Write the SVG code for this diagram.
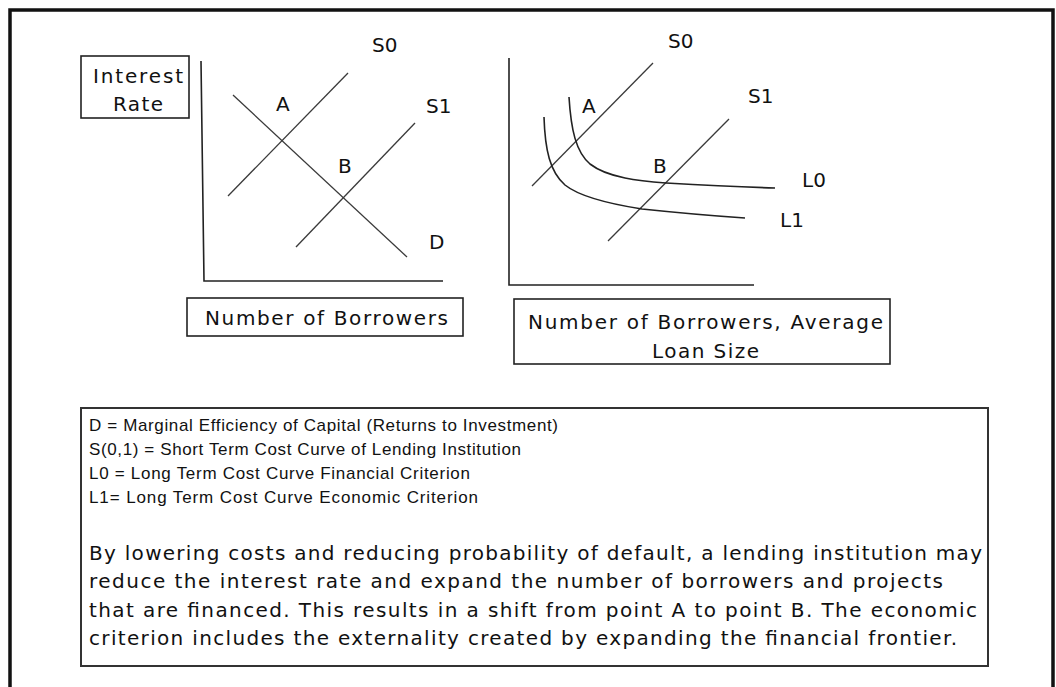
<svg xmlns="http://www.w3.org/2000/svg" width="1056" height="687" viewBox="0 0 1056 687">
<style>
.bg{fill:#fff}
.frame{fill:none;stroke:#111;stroke-width:3.5}
.box{fill:#fff;stroke:#222;stroke-width:1.6}
.lbox{fill:#fff;stroke:#333;stroke-width:2}
.axis{fill:none;stroke:#222;stroke-width:1.6}
.ln{fill:none;stroke:#3a3a3a;stroke-width:1.3}
.cv{fill:none;stroke:#222;stroke-width:1.6}
.t{font-family:"DejaVu Sans",Verdana,sans-serif;font-size:20px;fill:#111}
.s{font-family:"Liberation Sans",Arial,sans-serif;font-size:17px;fill:#111}
</style>
<rect class="bg" x="0" y="0" width="1056" height="687"/>
<path class="frame" d="M10,700 V10 H1053 V700"/>

<g id="y-label">
  <rect class="box" x="81" y="56" width="108" height="62"/>
  <text class="t" x="93" y="83" textLength="90">Interest</text>
  <text class="t" x="113" y="111" textLength="50">Rate</text>
</g>

<g id="left-graph">
  <path class="axis" d="M201,61 L204,281 L443,281"/>
  <g id="left-lines">
    <line class="ln" x1="228" y1="196" x2="348" y2="73"/>
    <line class="ln" x1="233" y1="95" x2="407" y2="257"/>
    <line class="ln" x1="296" y1="247" x2="415" y2="123"/>
  </g>
  <text class="t" x="372" y="52">S0</text>
  <text class="t" x="426" y="113">S1</text>
  <text class="t" x="276" y="111">A</text>
  <text class="t" x="338" y="173">B</text>
  <text class="t" x="429" y="249">D</text>
</g>

<g id="left-x-label">
  <rect class="box" x="187" y="298" width="276" height="38"/>
  <text class="t" x="205" y="325" textLength="243">Number of Borrowers</text>
</g>

<g id="right-graph">
  <path class="axis" d="M509,58 L509,285 L754,285"/>
  <g id="right-lines">
    <line class="ln" x1="532" y1="186" x2="653" y2="63"/>
    <line class="ln" x1="608" y1="241" x2="729" y2="119"/>
    <path class="cv" d="M569,97 C571,130 576,152 590,164 C608,178 640,181 666,183 C700,185 740,187 775,188"/>
    <path class="cv" d="M544,117 C545,150 550,172 565,185 C580,197 610,204 642,209 C680,213 715,216 745,218"/>
  </g>
  <text class="t" x="668" y="48">S0</text>
  <text class="t" x="748" y="103">S1</text>
  <text class="t" x="582" y="113">A</text>
  <text class="t" x="653" y="173">B</text>
  <text class="t" x="802" y="187">L0</text>
  <text class="t" x="780" y="227">L1</text>
</g>

<g id="right-x-label">
  <rect class="box" x="514" y="299" width="376" height="65"/>
  <text class="t" x="528" y="329" textLength="355">Number of Borrowers, Average</text>
  <text class="t" x="652" y="358" textLength="107">Loan Size</text>
</g>

<g id="legend">
  <rect class="lbox" x="81" y="408" width="907" height="258"/>
  <text class="s" x="89" y="431" textLength="469">D = Marginal Efficiency of Capital (Returns to Investment)</text>
  <text class="s" x="89" y="455" textLength="432">S(0,1) = Short Term Cost Curve of Lending Institution</text>
  <text class="s" x="89" y="479" textLength="381">L0 = Long Term Cost Curve Financial Criterion</text>
  <text class="s" x="89" y="503" textLength="389">L1= Long Term Cost Curve Economic Criterion</text>
  <text class="t" x="89" y="560" textLength="893">By lowering costs and reducing probability of default, a lending institution may</text>
  <text class="t" x="89" y="588" textLength="854">reduce the interest rate and expand the number of borrowers and projects</text>
  <text class="t" x="89" y="617" textLength="888">that are financed. This results in a shift from point A to point B. The economic</text>
  <text class="t" x="89" y="645" textLength="868">criterion includes the externality created by expanding the financial frontier.</text>
</g>
</svg>
